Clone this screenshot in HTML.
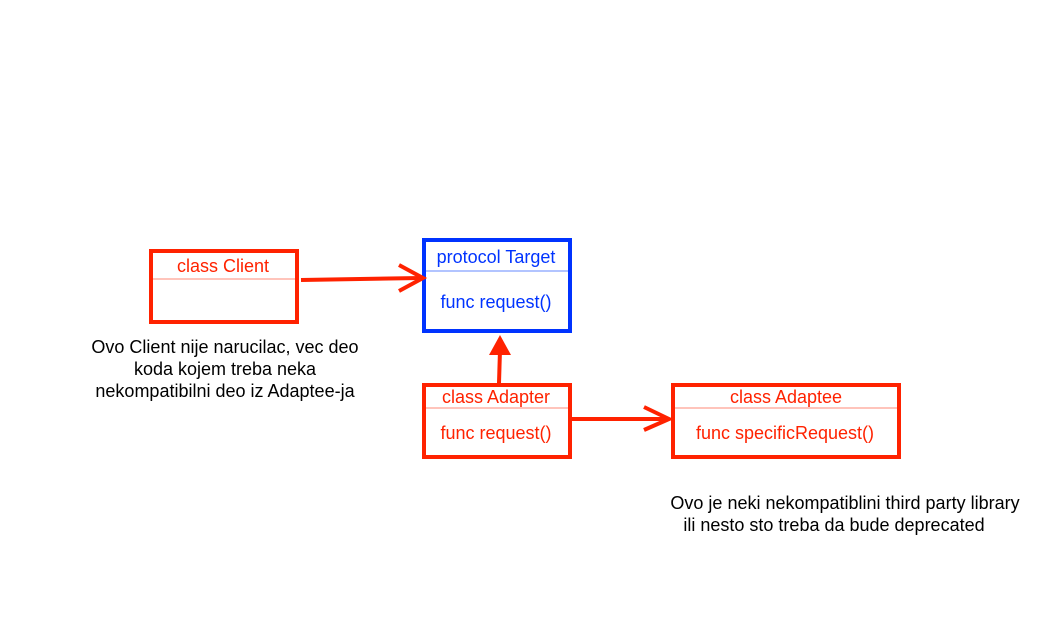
<!DOCTYPE html>
<html><head><meta charset="utf-8"><style>html,body{margin:0;padding:0;background:#fff}svg{display:block}</style></head>
<body>
<svg width="1047" height="629" xmlns="http://www.w3.org/2000/svg" font-family="Liberation Sans, Arial, sans-serif" font-size="18">
<rect width="1047" height="629" fill="#fff"/>
<!-- Client -->
<rect x="151" y="251" width="146" height="71" fill="none" stroke="#ff2200" stroke-width="4"/>
<line x1="153" y1="279" x2="295" y2="279" stroke="#ff8877" stroke-width="1"/>
<text x="223" y="272" fill="#ff2200" text-anchor="middle">class Client</text>
<!-- Target -->
<rect x="424" y="240" width="146" height="91" fill="none" stroke="#0033ff" stroke-width="4"/>
<line x1="426" y1="271" x2="568" y2="271" stroke="#6688ff" stroke-width="1"/>
<text x="496" y="263" fill="#0033ff" text-anchor="middle">protocol Target</text>
<text x="496" y="308" fill="#0033ff" text-anchor="middle">func request()</text>
<!-- Adapter -->
<rect x="424" y="385" width="146" height="72" fill="none" stroke="#ff2200" stroke-width="4"/>
<line x1="426" y1="408" x2="568" y2="408" stroke="#ff8877" stroke-width="1"/>
<text x="496" y="403" fill="#ff2200" text-anchor="middle">class Adapter</text>
<text x="496" y="439" fill="#ff2200" text-anchor="middle">func request()</text>
<!-- Adaptee -->
<rect x="673" y="385" width="226" height="72" fill="none" stroke="#ff2200" stroke-width="4"/>
<line x1="675" y1="408" x2="897" y2="408" stroke="#ff8877" stroke-width="1"/>
<text x="786" y="403" fill="#ff2200" text-anchor="middle">class Adaptee</text>
<text x="785" y="439" fill="#ff2200" text-anchor="middle">func specificRequest()</text>
<!-- arrows -->
<g stroke="#ff2200" stroke-width="4" fill="none">
<line x1="301" y1="280" x2="421" y2="278"/>
<polyline points="399,265 423,278 399,291"/>
<line x1="499" y1="383" x2="500" y2="350"/>
<line x1="572" y1="419" x2="669" y2="419"/>
<polyline points="644,407 669,419 644,430"/>
</g>
<polygon points="500,335 489,355 511,355" fill="#ff2200"/>
<!-- notes -->
<g fill="#000" text-anchor="middle" font-size="18">
<text x="225" y="353">Ovo Client nije narucilac, vec deo</text>
<text x="225" y="375">koda kojem treba neka</text>
<text x="225" y="397">nekompatibilni deo iz Adaptee-ja</text>
<text x="845" y="509">Ovo je neki nekompatiblini third party library</text>
<text x="834" y="531">ili nesto sto treba da bude deprecated</text>
</g>
</svg>
</body></html>
